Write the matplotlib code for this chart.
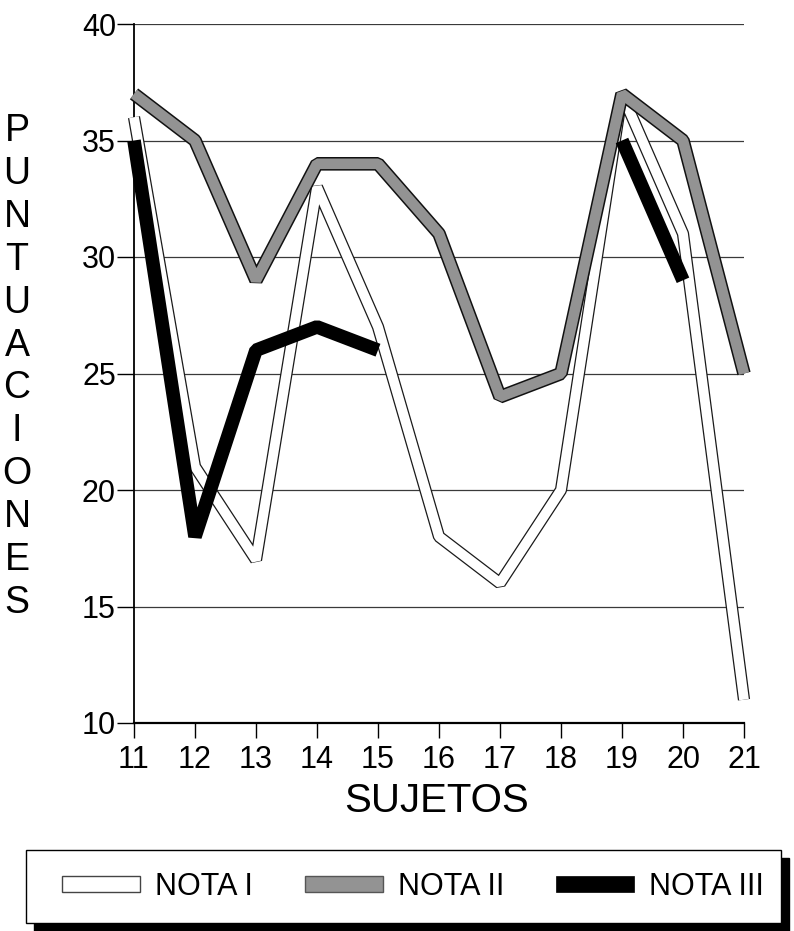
import numpy as np
import matplotlib
matplotlib.use("Agg")
import matplotlib.pyplot as plt
import matplotlib.patheffects as pe
from matplotlib.patches import Patch, Rectangle

plt.rcParams['font.family'] = ['Liberation Sans', 'DejaVu Sans']

sujetos = [11, 12, 13, 14, 15, 16, 17, 18, 19, 20, 21]
nota_i = [36, 21, 17, 33, 27, 18, 16, 20, 37, 31, 11]
nota_ii = [37, 35, 29, 34, 34, 31, 24, 25, 37, 35, 25]
nota_iii = [35, 18, 26, 27, 26, np.nan, np.nan, np.nan, 35, 29, np.nan]
series_labels = ["NOTA I", "NOTA II", "NOTA III"]
yticks = [10, 15, 20, 25, 30, 35, 40]
ylabel = "PUNTUACIONES"
xlabel = "SUJETOS"

W, H = 794, 931
fig = plt.figure(figsize=(W / 100, H / 100), dpi=100)
ax = fig.add_axes([134 / W, 1 - 723 / H, (744 - 134) / W, (723 - 24) / H])

ax.set_xlim(11, 21)
ax.set_ylim(10, 40)
ax.set_xticks(sujetos)
ax.set_yticks(yticks)
ax.tick_params(axis='x', length=11, width=1.0, pad=5, labelsize=22)
ax.tick_params(axis='y', length=12, width=1.0, pad=1, labelsize=22)
for s in ['top', 'right']:
    ax.spines[s].set_visible(False)
ax.spines['left'].set_linewidth(1.3)
ax.spines['bottom'].set_linewidth(1.6)
ax.yaxis.grid(True, color='#3a3a3a', linewidth=0.9)
ax.set_axisbelow(True)

common = dict(solid_capstyle='butt', solid_joinstyle='bevel', clip_on=False)
ax.plot(sujetos, nota_i, color='white', lw=7.0, zorder=3,
        path_effects=[pe.Stroke(linewidth=8.8, foreground='#1a1a1a'), pe.Normal()], **common)
ax.plot(sujetos, nota_ii, color='#939393', lw=7.6, zorder=4,
        path_effects=[pe.Stroke(linewidth=9.8, foreground='#111111'), pe.Normal()], **common)
ax.plot(sujetos, nota_iii, color='black', lw=9.8, zorder=5, **common)

# axis titles
fig.text(437 / W, 1 - 801 / H, xlabel, fontsize=29, ha='center', va='center')
n = len(ylabel)
y0, y1 = 131, 603
for i, ch in enumerate(ylabel):
    yy = y0 + (y1 - y0) * i / (n - 1)
    fig.text(17 / W, 1 - yy / H, ch, fontsize=27, ha='center', va='center')

# legend frame with shadow
bx0, bx1, by0, by1 = 26, 781, 850, 923
off = 8
fig.patches.append(Rectangle(((bx0 + off) / W, 1 - (by1 + off) / H), (bx1 - bx0) / W, (by1 - by0) / H,
                             transform=fig.transFigure, facecolor='black', edgecolor='black', zorder=1))
fig.patches.append(Rectangle((bx0 / W, 1 - by1 / H), (bx1 - bx0) / W, (by1 - by0) / H,
                             transform=fig.transFigure, facecolor='white', edgecolor='black',
                             linewidth=1.0, zorder=2))

handles = [Patch(facecolor='white', edgecolor='#444444', linewidth=1.0),
           Patch(facecolor='#939393', edgecolor='#555555', linewidth=1.0),
           Patch(facecolor='black', edgecolor='black', linewidth=0.5)]
fig.legend(handles, series_labels, loc='center', bbox_to_anchor=(413 / W, 1 - 887 / H),
           ncol=3, frameon=False, fontsize=22, handlelength=2.55, handleheight=0.4,
           handletextpad=0.49, columnspacing=1.7, borderpad=0)

fig.savefig("out.png", dpi=100)
